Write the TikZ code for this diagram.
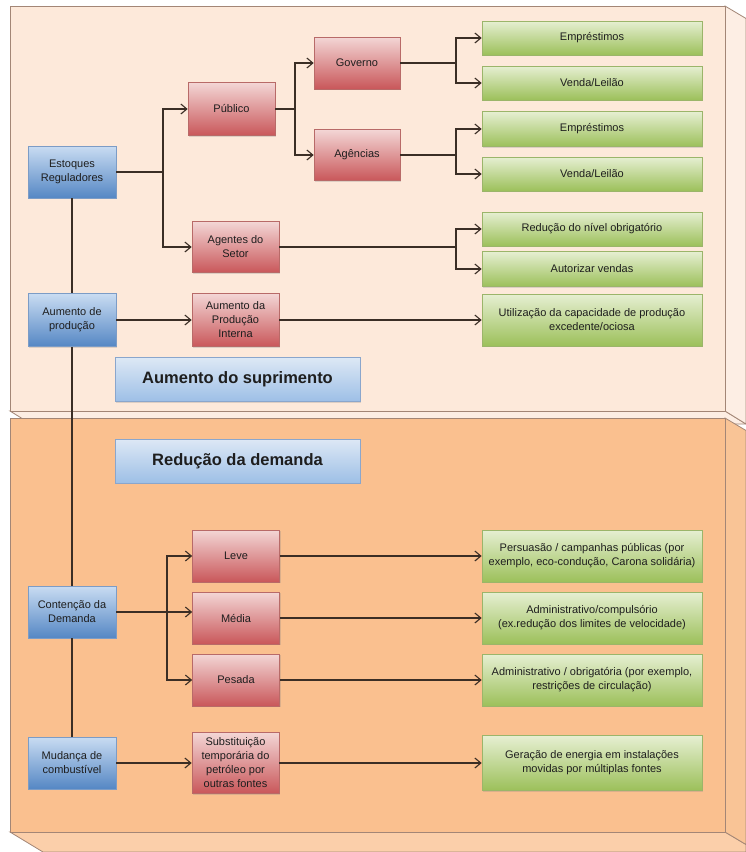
\documentclass[tikz,border=0pt]{standalone}
\usepackage{fontspec}
\setmainfont{Liberation Sans}
\usetikzlibrary{arrows.meta,shadows}
\definecolor{topfront}{HTML}{FDE9DA}
\definecolor{topside}{HTML}{FDEEE4}
\definecolor{botfront}{HTML}{FAC08F}
\definecolor{botside}{HTML}{F9C496}
\definecolor{botbottom}{HTML}{FBCFAA}
\definecolor{paneledge}{HTML}{A38676}
\definecolor{conn}{HTML}{3B2E25}
\definecolor{txt}{HTML}{1E1E1E}
\definecolor{HTMLblueedge}{HTML}{7C9CC6}
\definecolor{HTMLbluetop}{HTML}{C9DCF2}
\definecolor{HTMLbluebot}{HTML}{5587C4}
\definecolor{HTMLrededge}{HTML}{B86A68}
\definecolor{HTMLredtop}{HTML}{F3D6D5}
\definecolor{HTMLredbot}{HTML}{C9575A}
\definecolor{HTMLgreenedge}{HTML}{9BB56A}
\definecolor{HTMLgreentop}{HTML}{E6EFD2}
\definecolor{HTMLgreenbot}{HTML}{9CC05A}
\definecolor{HTMLtitleedge}{HTML}{8AA6CC}
\definecolor{HTMLtitletop}{HTML}{DDE8F5}
\definecolor{HTMLtitlebot}{HTML}{9DBFE6}
\tikzset{
  panel/.style={draw=paneledge, line width=0.8pt},
  box/.style={rectangle, align=center, text=txt, font=\fontsize{11}{14}\selectfont,
     inner sep=1pt, line width=0.6pt,
     drop shadow={shadow xshift=1pt, shadow yshift=-1.2pt, opacity=0.25}},
  bluebox/.style={box, draw=HTMLblueedge, top color=HTMLbluetop, bottom color=HTMLbluebot,
     minimum width=88pt, minimum height=52pt},
  redbox/.style={box, draw=HTMLrededge, top color=HTMLredtop, bottom color=HTMLredbot,
     minimum width=87pt, minimum height=52pt},
  greenbox/.style={box, draw=HTMLgreenedge, top color=HTMLgreentop, bottom color=HTMLgreenbot,
     minimum width=220pt, minimum height=34pt},
  titlebox/.style={box, draw=HTMLtitleedge, top color=HTMLtitletop, bottom color=HTMLtitlebot,
     minimum width=245pt, minimum height=44pt, font=\fontsize{16.5}{19}\selectfont\bfseries},
  conline/.style={draw=conn, line width=1.4pt},
  arr/.style={conline, -{Straight Barb[length=6pt,width=10pt,line width=1.1pt]}},
}
\begin{document}
\begin{tikzpicture}[x=1pt,y=-1pt]
\useasboundingbox[fill=white] (0,0) rectangle (746,852);
% top panel (3D box)
\filldraw[panel, fill=topside] (10,411) -- (725,411) -- (746,424) -- (31,424) -- cycle;
\filldraw[panel, fill=topside] (725,6) -- (746,18.5) -- (746,424) -- (725,411) -- cycle;
\filldraw[panel, fill=topfront] (10,6) rectangle (725,411);
% bottom panel (3D box)
\filldraw[panel, fill=botbottom] (10,832) -- (725,832) -- (746,844.5) -- (746,852) -- (43,852) -- cycle;
\filldraw[panel, fill=botside] (725,418) -- (746,430.5) -- (746,844.5) -- (725,832) -- cycle;
\filldraw[panel, fill=botfront] (10,418) rectangle (725,832);

% titles
\node[titlebox] (tsup) at (237.5,379.5) {Aumento do suprimento};
\node[titlebox] (tdem) at (237.5,461) {Redução da demanda};

% blue boxes
\node[bluebox] (est) at (72,172) {Estoques\\Reguladores};
\node[bluebox, minimum height=53pt] (aum) at (72,320) {Aumento de\\produção};
\node[bluebox] (cont) at (72,612) {Contenção da\\Demanda};
\node[bluebox] (mud) at (72,763) {Mudança de\\combustível};

% red boxes
\node[redbox, minimum height=53pt] (pub) at (231.5,109) {Público};
\node[redbox, minimum width=86pt] (gov) at (357,63) {Governo};
\node[redbox, minimum width=86pt, minimum height=51pt] (age) at (357,155) {Agências};
\node[redbox, minimum height=51pt] (set) at (235.5,247) {Agentes do\\Setor};
\node[redbox, minimum height=53pt] (api) at (235.5,320) {Aumento da\\Produção\\Interna};
\node[redbox] (leve) at (236,556) {Leve};
\node[redbox] (media) at (236,618) {Média};
\node[redbox] (pes) at (236,680) {Pesada};
\node[redbox, minimum height=61pt] (sub) at (235.5,763) {Substituição\\temporária do\\petróleo por\\outras fontes};

% green boxes
\node[greenbox] (e1) at (592,38) {Empréstimos};
\node[greenbox] (v1) at (592,83) {Venda/Leilão};
\node[greenbox, minimum height=35pt] (e2) at (592,129) {Empréstimos};
\node[greenbox] (v2) at (592,174) {Venda/Leilão};
\node[greenbox] (red) at (592,229) {Redução do nível obrigatório};
\node[greenbox, minimum height=35pt] (aut) at (592,269) {Autorizar vendas};
\node[greenbox, minimum height=52pt] (util) at (592,320) {Utilização da capacidade de produção\\excedente/ociosa};
\node[greenbox, minimum height=52pt] (pers) at (592,556) {Persuasão / campanhas públicas (por\\exemplo, eco-condução, Carona solidária)};
\node[greenbox, minimum height=52pt] (adm1) at (592,618) {Administrativo/compulsório\\(ex.redução dos limites de velocidade)};
\node[greenbox, minimum height=52pt] (adm2) at (592,680) {Administrativo / obrigatória (por exemplo,\\restrições de circulação)};
\node[greenbox, minimum height=55pt] (ger) at (592,763) {Geração de energia em instalações\\movidas por múltiplas fontes};

% junction coordinates
\coordinate (j1) at (163,172);
\coordinate (j2) at (295,109);
\coordinate (j3) at (456,63);
\coordinate (j4) at (456,155);
\coordinate (j5) at (456,247);
\coordinate (j6) at (167,612);

% spine
\path[conline] (est.south) -- (aum.north);
\path[conline] (aum.south) -- (cont.north);
\path[conline] (cont.south) -- (mud.north);

% connectors
\path[conline] (est.east) -- (j1);
\path[arr] (j1) |- (pub.west);
\path[arr] (j1) |- (set.west);
\path[conline] (pub.east) -- (j2);
\path[arr] (j2) |- (gov.west);
\path[arr] (j2) |- (age.west);
\path[conline] (gov.east) -- (j3);
\path[arr] (j3) |- (e1.west);
\path[arr] (j3) |- (v1.west);
\path[conline] (age.east) -- (j4);
\path[arr] (j4) |- (e2.west);
\path[arr] (j4) |- (v2.west);
\path[conline] (set.east) -- (j5);
\path[arr] (j5) |- (red.west);
\path[arr] (j5) |- (aut.west);
\path[arr] (aum.east) -- (api.west);
\path[arr] (api.east) -- (api.east -| util.west);
\path[arr] (cont.east) -- (cont.east -| media.west);
\path[arr] (j6) |- (leve.west);
\path[arr] (j6) |- (pes.west);
\path[arr] (leve.east) -- (pers.west);
\path[arr] (media.east) -- (adm1.west);
\path[arr] (pes.east) -- (adm2.west);
\path[arr] (mud.east) -- (mud.east -| sub.west);
\path[arr] (sub.east) -- (sub.east -| ger.west);
\end{tikzpicture}
\end{document}
